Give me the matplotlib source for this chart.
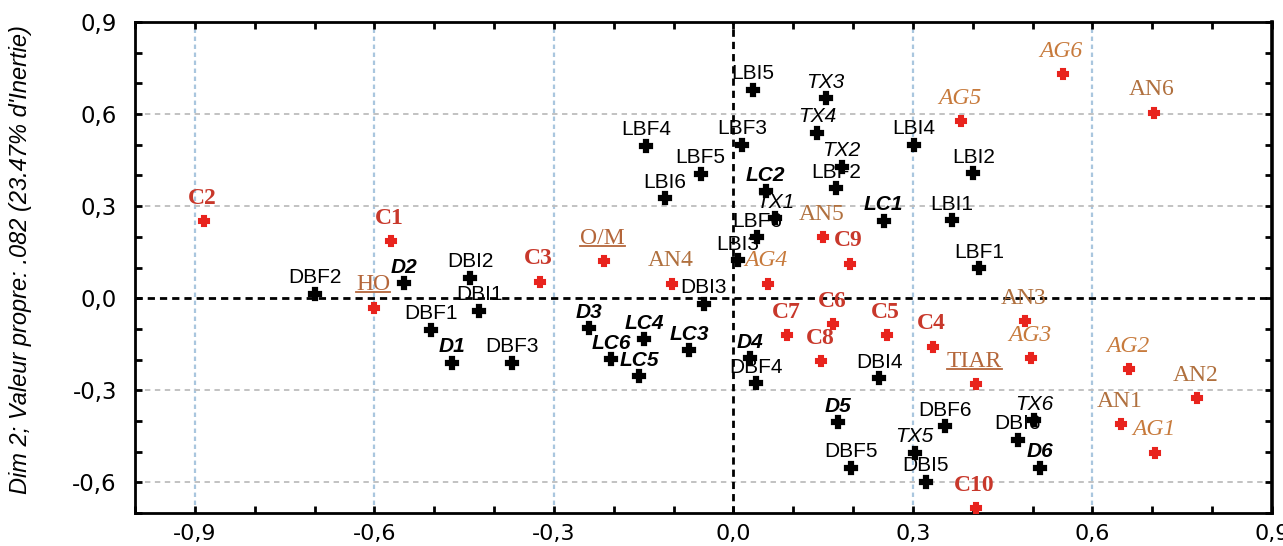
import matplotlib
matplotlib.use("Agg")
import matplotlib.pyplot as plt
from matplotlib.ticker import FixedLocator, MultipleLocator, FixedFormatter
from matplotlib.lines import Line2D
from matplotlib.transforms import IdentityTransform

# ---------------- data ----------------
black_labels = ["DBF2", "D2", "DBI2", "DBI1", "DBF1", "D1", "DBF3", "D3", "LC4", "LC6",
                "LC5", "LC3", "DBI3", "D4", "DBF4", "D5", "DBF5", "DBI4", "TX5", "DBI5",
                "DBF6", "DBI6", "TX6", "D6", "LBI5", "TX3", "TX4", "LBF4", "LBF3", "LBF5",
                "LBI6", "LC2", "TX1", "LBF6", "LBI3", "TX2", "LBF2", "LC1", "LBI4", "LBI2",
                "LBI1", "LBF1"]
black_x = [-0.700, -0.550, -0.440, -0.425, -0.505, -0.470, -0.370, -0.242, -0.149, -0.204,
           -0.157, -0.074, -0.050, 0.028, 0.038, 0.174, 0.197, 0.244, 0.303, 0.321,
           0.354, 0.475, 0.502, 0.513, 0.032, 0.154, 0.140, -0.146, 0.014, -0.055,
           -0.115, 0.054, 0.070, 0.040, 0.008, 0.181, 0.172, 0.251, 0.301, 0.401,
           0.365, 0.411]
black_y = [0.015, 0.048, 0.067, -0.041, -0.103, -0.210, -0.210, -0.097, -0.133, -0.199,
           -0.254, -0.169, -0.018, -0.195, -0.277, -0.405, -0.553, -0.261, -0.503, -0.598,
           -0.418, -0.461, -0.398, -0.552, 0.680, 0.651, 0.539, 0.497, 0.500, 0.405,
           0.326, 0.349, 0.261, 0.198, 0.123, 0.428, 0.359, 0.253, 0.500, 0.408,
           0.254, 0.097]

red_labels = ["C2", "C1", "HO", "C3", "O/M", "AN4", "AG4", "AN5", "C9", "C6", "C7", "C8",
              "C5", "C4", "TIAR", "AN3", "AG3", "AG2", "AN2", "AN1", "AG1", "C10", "AG5",
              "AG6", "AN6"]
red_x = [-0.885, -0.572, -0.600, -0.323, -0.216, -0.102, 0.057, 0.149, 0.194, 0.167, 0.090,
         0.147, 0.256, 0.333, 0.405, 0.488, 0.498, 0.661, 0.774, 0.647, 0.705, 0.405, 0.380,
         0.550, 0.702]
red_y = [0.251, 0.185, -0.031, 0.054, 0.120, 0.047, 0.047, 0.198, 0.113, -0.084, -0.120,
         -0.205, -0.120, -0.158, -0.280, -0.074, -0.196, -0.232, -0.325, -0.411, -0.503,
         -0.685, 0.576, 0.729, 0.605]

x_ticks = [-0.9, -0.6, -0.3, 0.0, 0.3, 0.6, 0.9]
x_tick_labels = ["-0,9", "-0,6", "-0,3", "0,0", "0,3", "0,6", "0,9"]
y_ticks = [-0.6, -0.3, 0.0, 0.3, 0.6, 0.9]
y_tick_labels = ["-0,6", "-0,3", "0,0", "0,3", "0,6", "0,9"]
y_title = "Dim 2; Valeur propre: .082 (23.47% d'Inertie)"

# ---------------- figure ----------------
W, H = 1283, 546
fig = plt.figure(figsize=(W / 100, H / 100), dpi=100)
ax = fig.add_axes([135 / W, 1 - 513 / H, (1272 - 135) / W, (513 - 22) / H])
ax.set_xlim(-1.0, 0.9)
ax.set_ylim(-0.7, 0.9)

# grid lines
for v in [-0.9, -0.6, -0.3, 0.3, 0.6]:
    ax.axvline(v, color="#a9c6de", lw=1.6, ls=(0, (2.0, 1.6)), zorder=1)
for v in [-0.6, -0.3, 0.3, 0.6]:
    ax.axhline(v, color="#bdbdbd", lw=1.3, ls=(0, (3.0, 2.5)), zorder=1)
ax.axvline(0, color="black", lw=2.0, ls=(0, (2.6, 1.8)), zorder=2)
ax.axhline(0, color="black", lw=2.0, ls=(0, (2.6, 1.8)), zorder=2)

# markers
ax.plot(black_x, black_y, ls="none", marker="P", ms=8.5, color="black",
        markeredgecolor="black", markeredgewidth=1.6, zorder=4)
ax.plot(red_x, red_y, ls="none", marker="P", ms=7.5, color="#e8231d",
        markeredgecolor="#e8231d", markeredgewidth=1.5, zorder=4)

# black labels
for lab, x, y in zip(black_labels, black_x, black_y):
    if lab.startswith("D") and not lab.startswith("DB"):
        style, weight = "italic", "bold"
    elif lab.startswith("LC"):
        style, weight = "italic", "bold"
    elif lab.startswith("TX"):
        style, weight = "italic", "normal"
    else:
        style, weight = "normal", "normal"
    ax.annotate(lab, (x, y), xytext=(0, 7.5), textcoords="offset points",
                ha="center", va="baseline", fontsize=15, family="Liberation Sans",
                style=style, weight=weight, color="black", zorder=5)

# red labels
underlined = []
for lab, x, y in zip(red_labels, red_x, red_y):
    if lab.startswith("C"):
        color, style, weight = "#c8382b", "normal", "bold"
    elif lab.startswith("AN"):
        color, style, weight = "#b0703e", "normal", "normal"
    elif lab.startswith("AG"):
        color, style, weight = "#c77a3c", "italic", "normal"
    else:
        color, style, weight = "#b4663a", "normal", "normal"
    t = ax.annotate(lab, (x, y), xytext=(-1, 12.5), textcoords="offset points",
                    ha="center", va="baseline", fontsize=17, family="Liberation Serif",
                    style=style, weight=weight, color=color, zorder=5)
    if lab in ("HO", "O/M", "TIAR"):
        underlined.append((t, color))

# ticks
ax.xaxis.set_major_locator(FixedLocator(x_ticks))
ax.xaxis.set_major_formatter(FixedFormatter(x_tick_labels))
ax.yaxis.set_major_locator(FixedLocator(y_ticks))
ax.yaxis.set_major_formatter(FixedFormatter(y_tick_labels))
ax.xaxis.set_minor_locator(MultipleLocator(0.1))
ax.yaxis.set_minor_locator(MultipleLocator(0.1))
ax.tick_params(which="both", direction="in", top=True, right=True, width=2.0,
               color="black")
ax.tick_params(which="major", length=5)
ax.tick_params(which="minor", length=5)
ax.tick_params(axis="x", which="major", pad=8, labelsize=16)
ax.tick_params(axis="y", which="major", pad=13, labelsize=16.5)
for lbl in ax.get_xticklabels() + ax.get_yticklabels():
    lbl.set_family("DejaVu Sans")

for s in ax.spines.values():
    s.set_linewidth(2.0)
    s.set_color("black")
ax.spines["right"].set_linewidth(2.6)

fig.text(21 / W, 1 - 260 / H, y_title, rotation=90, ha="center", va="center",
         fontsize=17, family="Liberation Sans", style="italic", color="black")

# underlines
fig.canvas.draw()
r = fig.canvas.get_renderer()
for t, color in underlined:
    bb = t.get_window_extent(r)
    yl = bb.y0 + 3
    fig.add_artist(Line2D([bb.x0, bb.x1], [yl, yl], transform=IdentityTransform(),
                          color=color, lw=1.3))

fig.savefig("out.png", dpi=100)
